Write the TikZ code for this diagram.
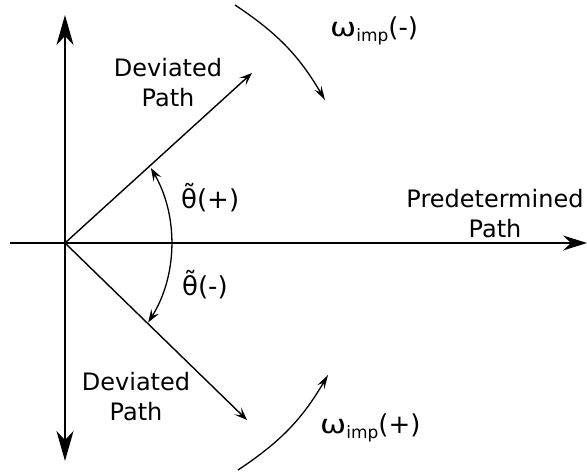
\documentclass[tikz,border=0pt]{standalone}
\usepackage{fontspec}
\setmainfont{DejaVu Sans}
\usetikzlibrary{arrows.meta}
\tikzset{
  axis/.style={line width=1.8pt},
  ray/.style={line width=1.4pt,-{Stealth[length=13pt,width=10pt,inset=6pt]}},
  turn/.style={line width=1.3pt,-{Stealth[length=14pt,width=8pt,inset=5pt]}},
  lbl/.style={inner sep=0pt,font=\fontsize{24}{30}\selectfont,align=center},
  glbl/.style={inner sep=0pt,font=\fontsize{26}{30}\selectfont},
  bighead/.tip={Stealth[length=30pt,width=17pt,inset=9pt]},
  smallhead/.tip={Stealth[length=13pt,width=9pt,inset=5pt]}
}
\newcommand{\sbimp}{\raisebox{-5pt}{\fontsize{17}{17}\selectfont imp}}
\newcommand{\wideomega}{\scalebox{1.2}[1]{ω}}
\begin{document}
\begin{tikzpicture}[x=1pt,y=1pt]
\useasboundingbox (0,0) rectangle (587,475);
\coordinate (O) at (65,232);
\coordinate (vtop) at (65,460);
\coordinate (vbot) at (65,14);
\coordinate (hleft) at (10,232);
\coordinate (hright) at (587,232);
\coordinate (dup) at (252,402);
\coordinate (ddown) at (247,55);
\coordinate (wms) at (235,470);
\coordinate (wme) at (325,375);
\coordinate (wps) at (238,5);
\coordinate (wpe) at (328,100);
% axes
\draw[axis,bighead-bighead] (vbot) -- (vtop);
\draw[axis,-{Stealth[length=24pt,width=15pt,inset=8pt]}] (hleft) -- (hright);
% deviated paths
\draw[ray] (O) -- (dup);
\draw[ray] (O) -- (ddown);
% theta arc
\draw[line width=1.3pt,smallhead-smallhead]
  ([shift={(30:150)}]21,232) arc[start angle=30,end angle=-32,radius=150];
% omega arcs
\draw[turn] (wms) to[bend left=13] (wme);
\draw[turn] (wps) to[bend right=13] (wpe);
% labels
\node[lbl] (dev1) at (168,392) {Deviated\\Path};
\node[lbl] (dev2) at (136,78) {Deviated\\Path};
\node[lbl] (pred) at (495,261) {Predetermined\\Path};
\node[glbl,anchor=base west] (thp) at (181,267) {θ̃(+)};
\node[glbl,anchor=base west] (thm) at (182,180) {θ̃(-)};
\node[glbl,anchor=base west] (wm) at (330,438) {\wideomega\sbimp(-)};
\node[glbl,anchor=base west] (wp) at (320,42) {\wideomega\sbimp(+)};
\end{tikzpicture}
\end{document}
